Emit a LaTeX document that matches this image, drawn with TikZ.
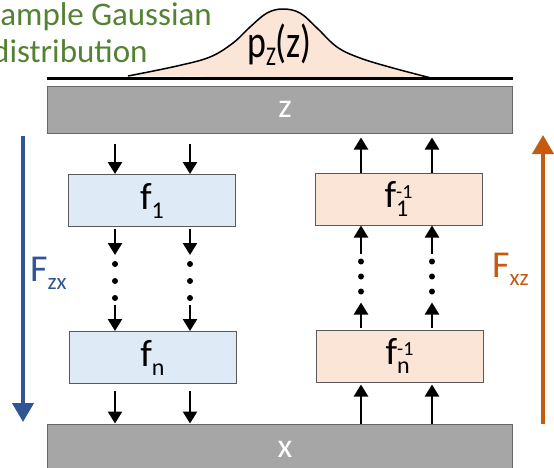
\documentclass[tikz,border=0pt]{standalone}
\usepackage{fontspec}
\usepackage{graphicx}
\setmainfont{Carlito}
\usetikzlibrary{arrows.meta,calc}
\definecolor{gbar}{HTML}{A6A6A6}
\definecolor{lblue}{HTML}{DEEBF7}
\definecolor{lorange}{HTML}{FBE5D6}
\definecolor{blueA}{HTML}{2F5597}
\definecolor{orangeA}{HTML}{C55A11}
\definecolor{greenA}{HTML}{548235}
\newcommand\lab{\fontsize{38}{40}\selectfont}
\newcommand\subf{\fontsize{24}{26}\selectfont}
\newcommand\supf{\fontsize{20}{22}\selectfont}
\newcommand\lsub[1]{\raisebox{-9pt}{\subf #1}}
\newcommand\Fsub[1]{\raisebox{-8pt}{\fontsize{23}{25}\selectfont #1}}
\newcommand\supsub[2]{\raisebox{9pt}{\supf #1}\llap{\rlap{\raisebox{-9pt}{\subf #2}}\phantom{\supf #1}}}
\tikzset{
  bar/.style={draw=black!60, fill=gbar, line width=1pt, minimum width=465pt, minimum height=47pt, inner sep=0pt},
  fbox/.style={draw=black!65, line width=1pt, minimum width=167pt, minimum height=52pt, inner sep=0pt, font=\lab},
  fwd/.style={fbox, fill=lblue},
  inv/.style={fbox, fill=lorange},
  arr/.style={line width=2.5pt, -{Triangle[width=14pt,length=12pt]}},
  dotc/.style={circle, fill=black, inner sep=0pt, minimum size=6pt},
  big/.style={line width=4pt, -{Triangle[width=21pt,length=19pt]}},
  barlab/.style={text=white, font=\fontsize{34}{36}\selectfont},
  green/.style={anchor=base west, inner sep=0pt, text=greenA, font=\fontsize{33}{38}\selectfont},
}
\begin{document}
\begin{tikzpicture}[x=1pt,y=-1pt]
\useasboundingbox (0,0) rectangle (554,467);
% green caption
\node[green] (g1) at (-15,25) {Sample Gaussian};
\node[green] (g2) at (-8,62) {distribution};
% bars
\node[bar] (Z) at (279.5,109.5) {};
\node[bar, minimum height=50pt] (X) at (279.5,449) {};
\node[barlab] (zl) at (285,109) {z};
\node[barlab] (xl) at (285,449) {x};
% gaussian
\draw[fill=lorange, line width=1.5pt] plot[smooth, tension=0.6] coordinates {(128,76) (177,66) (210,57) (233,43) (250,27) (267,13) (283,9) (300,13) (317,28) (337,47) (360,58) (393,68) (435,79)};
\draw[line width=3pt] ($(Z.north west)+(0,-7)$) -- ($(Z.north east)+(0,-7)$);
\node[anchor=base west, inner sep=0pt] (pz) at (247,57) {\scalebox{0.78}[1]{\fontsize{46}{48}\selectfont p\raisebox{-8pt}{\fontsize{27}{29}\selectfont Z}(z)}};
% boxes
\node[fwd] (f1) at (152,200.5) {f\lsub{1}};
\node[fwd] (fn) at (152.5,357.5) {f\lsub{n}};
\node[inv] (f1i) at (398.5,199) {f\supsub{-1}{1}};
\node[inv] (fni) at (399.5,356) {f\supsub{-1}{n}};
% columns
\coordinate (cL1) at (115,0);
\coordinate (cL2) at (190,0);
\coordinate (cR1) at (361,0);
\coordinate (cR2) at (432,0);
% left (forward) arrows
\foreach \c in {cL1,cL2}{
  \draw[arr] ($(Z.south -| \c)+(0,10)$) -- (f1.north -| \c);
  \draw[arr] ($(f1.south -| \c)+(0,2)$) -- ++(0,26);
  \path (f1.south -| \c) ++(0,37) node[dotc] (\c a) {} ++(0,17) node[dotc] (\c b) {} ++(0,17) node[dotc] (\c c) {};
  \draw[arr] ($(fn.north -| \c)+(0,-26)$) -- (fn.north -| \c);
  \draw[arr] ($(fn.south -| \c)+(0,7)$) -- (X.north -| \c);
}
% right (inverse) arrows
\foreach \c in {cR1,cR2}{
  \draw[arr] (X.north -| \c) -- ($(fni.south -| \c)+(0,2)$);
  \draw[arr] ($(fni.north -| \c)+(0,-2)$) -- ++(0,-25);
  \path (fni.north -| \c) ++(0,-38) node[dotc] (\c a) {} ++(0,-15) node[dotc] (\c b) {} ++(0,-15) node[dotc] (\c c) {};
  \draw[arr] ($(f1i.south -| \c)+(0,28)$) -- (f1i.south -| \c);
  \draw[arr] (f1i.north -| \c) -- ($(Z.south -| \c)+(0,4)$);
}
% big arrows
\coordinate (bT) at (23,136);
\coordinate (bB) at (23,422);
\draw[big, draw=blueA] (bT) -- (bB);
\coordinate (oB) at (543,424);
\coordinate (oT) at (543,135);
\draw[big, draw=orangeA] (oB) -- (oT);
\node[anchor=base west, inner sep=0pt, text=blueA, font=\lab] (Fzx) at (30,281) {F\Fsub{zx}};
\node[anchor=base west, inner sep=0pt, text=orangeA, font=\lab] (Fxz) at (492,277) {F\Fsub{xz}};
\end{tikzpicture}
\end{document}
